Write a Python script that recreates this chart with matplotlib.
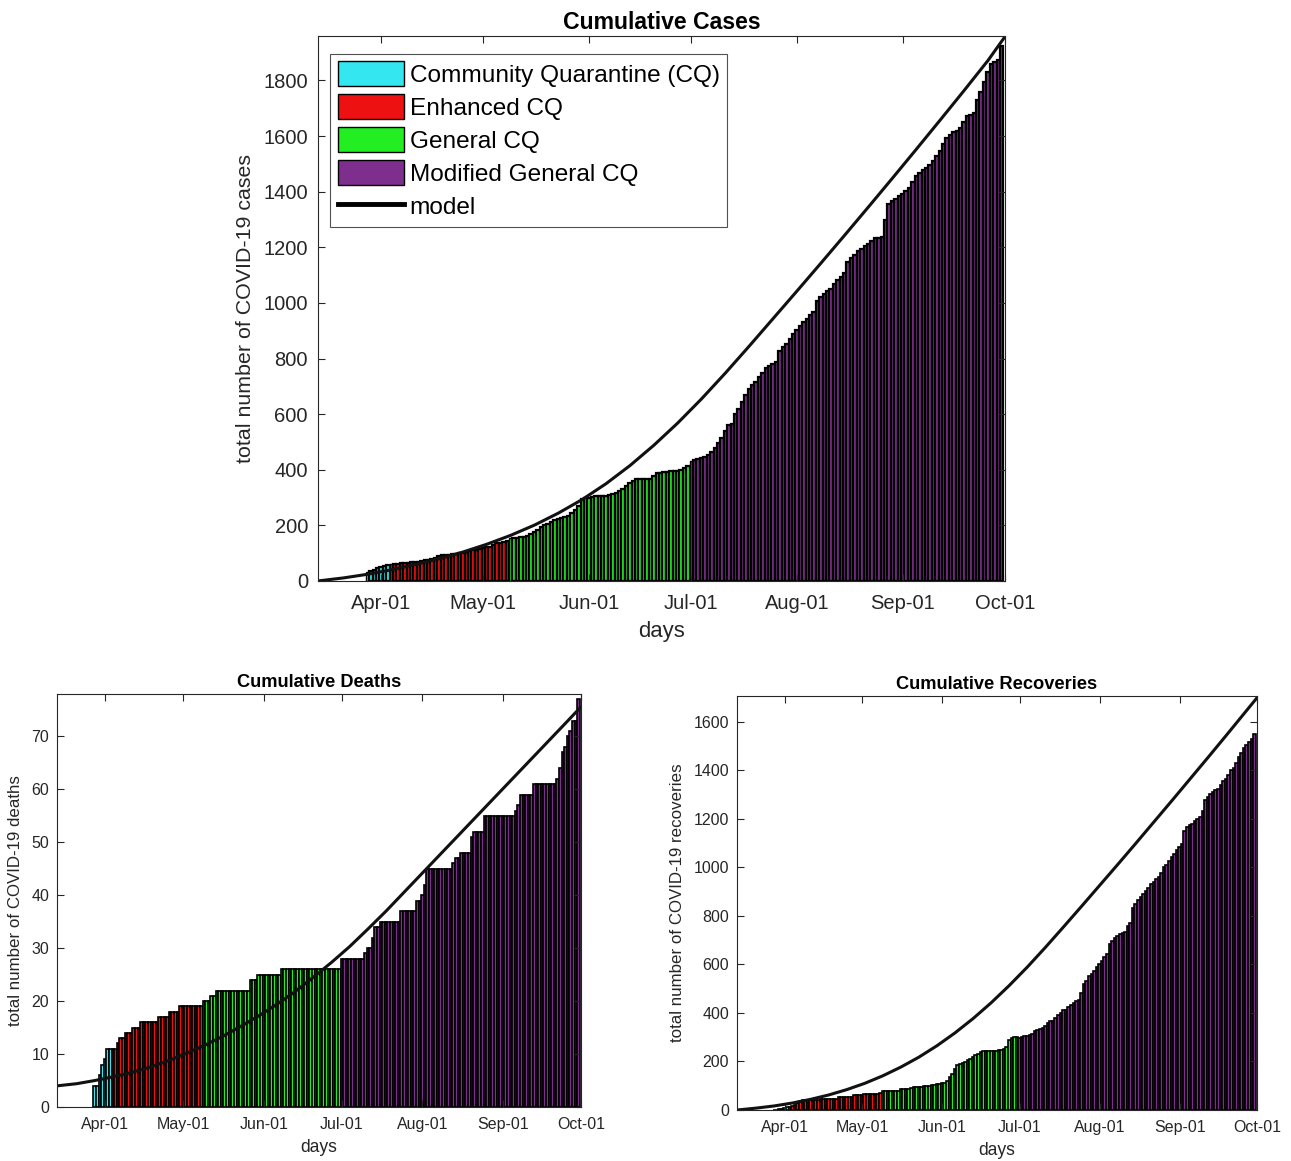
import numpy as np
import matplotlib
matplotlib.use('Agg')
import matplotlib.pyplot as plt
import matplotlib.dates as mdates
from matplotlib.lines import Line2D

plt.rcParams['font.family'] = ['Liberation Sans', 'DejaVu Sans']

# quarantine phases (first day of each)
phase_start = ['2020-03-28', '2020-04-04', '2020-05-09', '2020-07-01']
phase_names = ['Community Quarantine (CQ)', 'Enhanced CQ', 'General CQ', 'Modified General CQ']
phase_colors = ['#33e6ef', '#ee1111', '#22ee22', '#7e2f8e']

# cumulative cases per day, one list per phase
cases_cq = [32, 36, 40, 45, 50, 53, 57]
cases_ecq = [60, 61, 62, 63, 65, 66, 67, 68, 70, 72, 74, 76, 78, 82, 88, 92, 93, 95, 96, 97,
             99, 102, 105, 107, 110, 112, 115,
             118, 121, 123, 130, 136, 138, 140, 142]
cases_gcq = [155, 156, 156, 157, 158, 160, 168, 175, 185, 194, 200, 206, 212, 218, 222, 226,
             229, 232, 245, 255, 270, 296, 298,
             300, 302, 304, 305, 306, 307, 309, 312, 318, 324, 330, 340, 352, 360, 366, 366,
             366, 366, 368, 378, 388, 390, 391, 392, 394, 395, 397, 400, 408, 414]
cases_mgcq = [432, 436, 440, 443, 447, 452, 464, 478, 495, 515, 540, 561, 566, 600, 620, 645,
              668, 690, 705, 716, 735, 748, 765, 774, 780, 787, 826, 840, 851, 870, 890,
              903, 916, 930, 942, 955, 968, 1006, 1020, 1032, 1042, 1051, 1068, 1084, 1095,
              1109, 1148, 1160, 1174, 1185, 1193, 1203, 1213, 1222, 1232, 1235, 1238, 1300,
              1355, 1365, 1374, 1384,
              1393, 1403, 1413, 1435, 1458, 1468, 1477, 1487, 1496, 1512, 1529, 1548, 1570,
              1593, 1603, 1613, 1620, 1628, 1650, 1671, 1677, 1683, 1729, 1760, 1793, 1830,
              1858, 1866, 1875, 1925]

# cumulative deaths
deaths_cq = [4, 4, 6, 8, 9, 11, 11]
deaths_ecq = [11, 11, 12, 13, 13, 14, 14, 14, 15, 15, 15, 16, 16, 16, 16, 16, 16, 16, 17, 17,
              17, 17, 18, 18, 18, 18, 19,
              19, 19, 19, 19, 19, 19, 19, 19]
deaths_gcq = [20, 20, 20, 21, 21, 22, 22, 22, 22, 22, 22, 22, 22, 22, 22, 22, 22, 22, 24, 24,
              24, 25, 25,
              25, 25, 25, 25, 25, 25, 25, 26, 26, 26, 26, 26, 26, 26, 26, 26, 26, 26, 26, 26,
              26, 26, 26, 26, 26, 26, 26, 26, 26, 26]
deaths_mgcq = [28, 28, 28, 28, 28, 28, 28, 28, 28, 29, 30, 30, 32, 34, 34, 35, 35, 35, 35, 35,
               35, 35, 35, 37, 37, 37, 37, 37, 37, 39, 39,
               40, 42, 45, 45, 45, 45, 45, 45, 45, 45, 45, 45, 46, 47, 47, 48, 48, 48, 48, 51,
               52, 52, 52, 52, 55, 55, 55, 55, 55, 55, 55,
               55, 55, 55, 55, 55, 56, 57, 59, 59, 59, 59, 59, 61, 61, 61, 61, 61, 61, 61, 61,
               61, 62, 64, 67, 68, 70, 71, 73, 73, 77]

# cumulative recoveries
recov_cq = [2, 2, 4, 4, 8, 12, 14]
recov_ecq = [18, 20, 28, 39, 41, 41, 41, 41, 41, 41, 41, 46, 46, 46, 46, 46, 46, 46, 53, 53,
             53, 53, 53, 53, 60, 60, 60,
             62, 64, 66, 66, 66, 66, 68, 70]
recov_gcq = [78, 78, 80, 80, 80, 80, 80, 86, 87, 87, 88, 90, 94, 94, 95, 96, 97, 101, 101, 102,
             104, 106, 108,
             110, 112, 120, 136, 150, 170, 184, 188, 192, 198, 205, 212, 220, 226, 232, 240,
             242, 242, 243, 244, 244, 245, 246, 248, 252, 260, 290, 298, 300, 302]
recov_mgcq = [296, 300, 303, 305, 310, 315, 324, 328, 334, 338, 345, 358, 365, 368, 380, 393,
              400, 410, 414, 425, 434, 440, 448, 455, 480, 517, 530, 552, 560, 572, 590,
              600, 614, 630, 641, 683, 695, 710, 715, 724, 728, 735, 758, 770, 834, 850, 866,
              876, 890, 903, 915, 931, 940, 950, 958, 975, 1000, 1010, 1025, 1041, 1055, 1070,
              1083, 1095, 1151, 1165, 1172, 1179, 1190, 1200, 1207, 1230, 1276, 1290, 1303,
              1310, 1318, 1324, 1340, 1355, 1365, 1380, 1400, 1410, 1430, 1455, 1470, 1490,
              1503, 1515, 1530, 1548]

# model curves, sampled weekly
model_dates = ['2020-03-13T12', '2020-03-21', '2020-03-28', '2020-04-04', '2020-04-11',
               '2020-04-18', '2020-04-25', '2020-05-02', '2020-05-09', '2020-05-16',
               '2020-05-23', '2020-05-30', '2020-06-06', '2020-06-13', '2020-06-20',
               '2020-06-27', '2020-07-04', '2020-07-11', '2020-07-18', '2020-07-25',
               '2020-08-01', '2020-08-08', '2020-08-15', '2020-08-22', '2020-08-29',
               '2020-09-05', '2020-09-12', '2020-09-19', '2020-09-26', '2020-10-01']
cases_model = [0, 11, 24, 40, 59, 80, 104, 132, 164, 201, 244, 293, 350, 415, 488, 568, 655,
               748, 845, 944, 1043, 1143, 1244, 1346, 1449, 1553, 1658, 1764, 1872, 1958]
deaths_model = [4.0, 4.4, 5.0, 5.7, 6.5, 7.5, 8.7, 10.1, 11.6, 13.3, 15.2, 17.2, 19.4, 21.8,
                24.5, 27.3, 30.3, 33.6, 37.0, 40.6, 44.2, 47.8, 51.4, 55.0, 58.6, 62.2, 65.8,
                69.4, 73.0, 75.6]
recov_model = [0, 8, 17, 29, 44, 62, 84, 110, 141, 177, 218, 265, 318, 377, 442, 513, 589,
               670, 754, 839, 925, 1011, 1098, 1186, 1274, 1363, 1452, 1542, 1633, 1698]

for grp in ([cases_cq, deaths_cq, recov_cq], [cases_ecq, deaths_ecq, recov_ecq],
            [cases_gcq, deaths_gcq, recov_gcq], [cases_mgcq, deaths_mgcq, recov_mgcq]):
    assert len(set(len(g) for g in grp)) == 1, [len(g) for g in grp]

x_lo = np.datetime64('2020-03-13T12')
x_hi = np.datetime64('2020-10-01')
ink = '#262626'


def draw(ax, phases, model, ymax, yticks, title, ylabel, fs, lw_edge, legend=False):
    handles = []
    for start, vals, col, name in zip(phase_start, phases, phase_colors, phase_names):
        d0 = np.datetime64(start)
        days = d0 + np.arange(len(vals))
        b = ax.bar(days, vals, width=1.0, color=col, edgecolor='black',
                   linewidth=lw_edge, align='center', label=name)
        handles.append(b)
    ax.plot(np.array(model_dates, dtype='datetime64[h]'), model, color='#111111',
            lw=2.2, solid_capstyle='round', solid_joinstyle='round')
    ax.set_xlim(x_lo, x_hi)
    ax.set_ylim(0, ymax)
    ax.set_yticks(yticks)
    ax.xaxis.set_major_locator(mdates.MonthLocator(bymonth=range(4, 11)))
    ax.xaxis.set_major_formatter(mdates.DateFormatter('%b-%d'))
    ax.tick_params(direction='in', top=True, right=True, length=5, width=0.8,
                   colors=ink, labelsize=fs, labelcolor=ink)
    ax.tick_params(axis='x', pad=fs * 0.65)
    ax.tick_params(axis='y', pad=fs * 0.5)
    for s in ax.spines.values():
        s.set_color(ink)
        s.set_linewidth(0.8)
    ax.set_title(title, fontsize=fs * 1.14, fontweight='bold', pad=5)
    ax.set_xlabel('days', fontsize=fs * 1.1, color=ink, labelpad=fs * 0.4)
    ax.set_ylabel(ylabel, fontsize=fs * 1.06, color=ink, labelpad=6)
    if legend:
        # legend patches keep a thin outline
        for h in handles:
            h.patches[0].set_linewidth(1.0)
        handles.append(Line2D([], [], color='black', lw=3.5))
        leg = ax.legend(handles, phase_names + ['model'], loc='upper left',
                        fontsize=17.6, frameon=True, fancybox=False, handlelength=2.7,
                        handleheight=1.2, handletextpad=0.25, borderpad=0.3,
                        labelspacing=0.3, borderaxespad=0.5, bbox_to_anchor=(0.0, 0.99))
        for p in leg.get_patches():
            p.set_linewidth(1.0)
        leg.get_frame().set_edgecolor(ink)
        leg.get_frame().set_linewidth(0.8)


fig = plt.figure(figsize=(12.91, 11.61), dpi=100)

ax1 = fig.add_axes([0.2463, 0.4996, 0.5322, 0.4694])
draw(ax1, [cases_cq, cases_ecq, cases_gcq, cases_mgcq], cases_model, 1960,
     np.arange(0, 1801, 200), 'Cumulative Cases', 'total number of COVID-19 cases',
     14.5, 1.6, legend=True)

ax2 = fig.add_axes([0.0442, 0.0465, 0.4059, 0.3557])
draw(ax2, [deaths_cq, deaths_ecq, deaths_gcq, deaths_mgcq], deaths_model, 78,
     np.arange(0, 71, 10), 'Cumulative Deaths', 'total number of COVID-19 deaths',
     11.5, 1.2)

ax3 = fig.add_axes([0.5709, 0.0439, 0.4028, 0.3566])
draw(ax3, [recov_cq, recov_ecq, recov_gcq, recov_mgcq], recov_model, 1705,
     np.arange(0, 1601, 200), 'Cumulative Recoveries', 'total number of COVID-19 recoveries',
     11.5, 1.2)

fig.savefig('out.png', dpi=100)
